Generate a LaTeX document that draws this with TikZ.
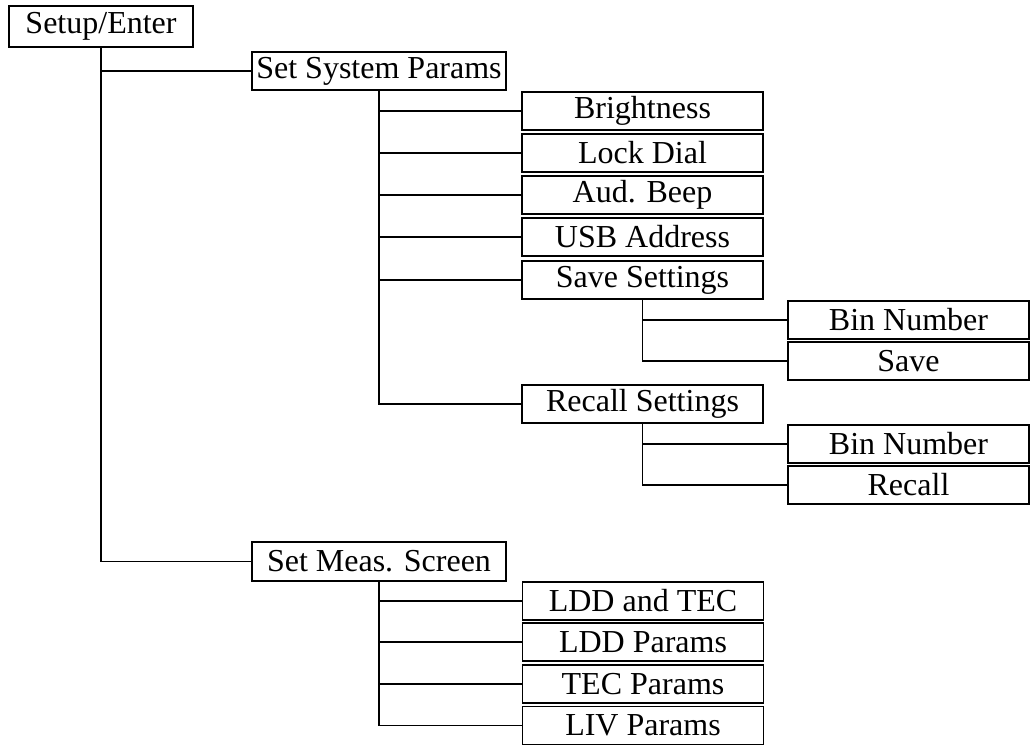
\documentclass[tikz,border=0pt]{standalone}
\usepackage{fontspec}
\setmainfont{Liberation Serif}
\usetikzlibrary{positioning}
\tikzset{menu/.style={draw, line width=0.65pt, inner sep=0pt, minimum height=19pt},
top menu/.style={menu, minimum width=92pt, minimum height=20.5pt},
sub menu/.style={menu, minimum width=127pt},
item/.style={menu, minimum width=120.5pt},
branch/.style={line width=0.6pt}
}

\begin{document}
\begin{tikzpicture}[x=0.5pt, y=-0.5pt, font=\fontsize{16}{19}\selectfont]
       \useasboundingbox (0,0) rectangle (1031,746);
       \node[top menu] (setup) at (101, 26.5) {Setup/Enter};
       \node[sub menu] (sys) at (379, 71) {Set System Params};
       \node[sub menu, minimum height=19.5pt] (meas) at (379, 561.5) {Set Meas. Screen};

       % system params items
       \node[item] (bright) at (642.5, 111) {Brightness};
       \node[item] (lock) at (642.5, 153) {Lock Dial};
       \node[item] (beep) at (642.5, 195) {Aud. Beep};
       \node[item] (usb) at (642.5, 237) {USB Address};
       \node[item] (saveset) at (642.5, 280) {Save Settings};
       \node[item] (recallset) at (642.5, 404) {Recall Settings};
       \node[item] (bin_s) at (908.5, 320) {Bin Number};
       \node[item] (save) at (908.5, 361) {Save};
       \node[item] (bin_r) at (908.5, 444) {Bin Number};
       \node[item] (recall) at (908.5, 485) {Recall};

       % measurement screen items
       \node[item] (lddtec) at (643, 601) {LDD and TEC};
       \node[item] (ldd) at (643, 642) {LDD Params};
       \node[item] (tec) at (643, 684) {TEC Params};
       \node[item] (liv) at (643, 725.5) {LIV Params};

       \draw[branch] (setup.south) |- (sys.west)
           (setup.south) |- (meas.west);
       \foreach \n in {bright, lock, beep, usb, saveset, recallset}
           \draw[branch] (sys.south) |- (\n.west);
       \foreach \n in {bin_s, save}
           \draw[branch] (saveset.south) |- (\n.west);
       \foreach \n in {bin_r, recall}
           \draw[branch] (recallset.south) |- (\n.west);
       \foreach \n in {lddtec, ldd, tec, liv}
           \draw[branch] (meas.south) |- (\n.west);
   \end{tikzpicture}
\end{document}
